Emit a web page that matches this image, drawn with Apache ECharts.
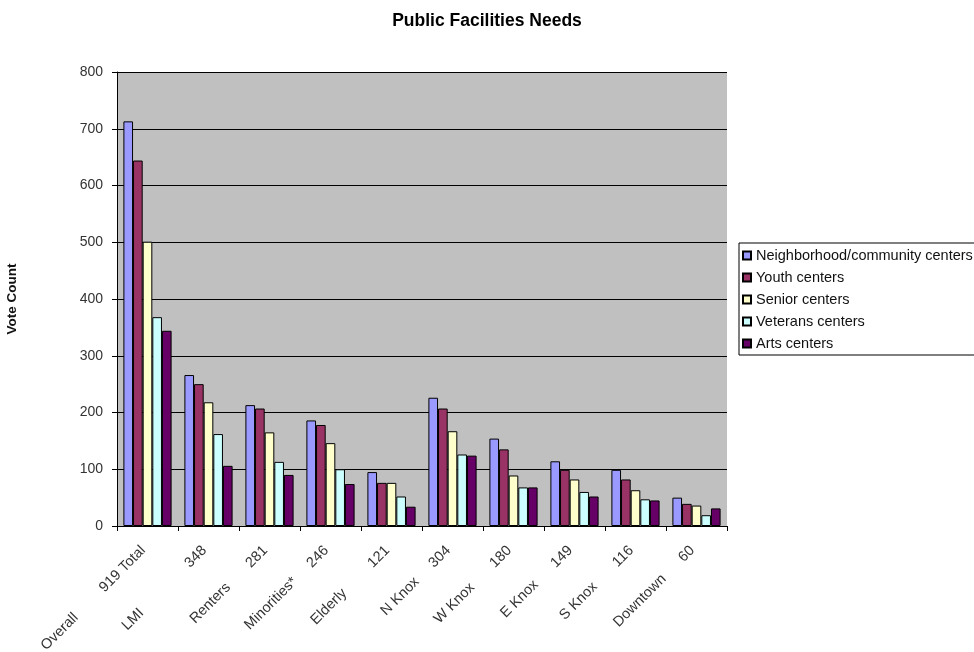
<!DOCTYPE html>
<html>
<head>
<meta charset="utf-8">
<script src="https://cdn.jsdelivr.net/npm/echarts@6/dist/echarts.min.js"></script>
<style>
html,body{margin:0;padding:0;background:#fff;}
#chart{width:974px;height:652px;}
</style>
</head>
<body>
<div id="chart"></div>
<script>
// Category labels (name + respondents count, as in the source)
var categories = [
  "Overall         919 Total",
  "LMI                348",
  "Renters       281",
  "Minorities*     246",
  "Elderly         121",
  "N Knox     304",
  "W Knox       180",
  "E Knox      149",
  "S Knox       116",
  "Downtown      60"
];
var seriesNames = [
  "Neighborhood/community centers",
  "Youth centers",
  "Senior centers",
  "Veterans centers",
  "Arts centers"
];
var neighborhood = [713, 266, 213, 186, 95, 226, 154, 114, 99, 50];
var youth        = [644, 250, 207, 178, 76, 207, 135, 99, 82, 39];
var senior       = [501, 218, 165, 146, 76, 167, 89, 82, 63, 36];
var veterans     = [368, 162, 113, 100, 52, 126, 68, 60, 47, 19];
var arts         = [344, 106, 90, 74, 34, 124, 68, 52, 45, 31];
var colors = ["#9999FF", "#993366", "#FFFFCC", "#CCFFFF", "#660066"];
var yTicks = [0, 100, 200, 300, 400, 500, 600, 700, 800];

var FONT = "'Liberation Sans', Arial, sans-serif";
var allData = [neighborhood, youth, senior, veterans, arts];

var series = allData.map(function (d, i) {
  return {
    name: seriesNames[i],
    type: 'bar',
    data: d,
    barGap: '0%',
    barCategoryGap: '21%',
    itemStyle: { color: colors[i], borderColor: '#000', borderWidth: 1 },
    emphasis: { disabled: true }
  };
});

var chart = echarts.init(document.getElementById('chart'), null, { renderer: 'canvas' });
chart.setOption({
  animation: false,
  backgroundColor: '#fff',
  title: {
    text: 'Public Facilities Needs',
    left: 'center',
    top: 7,
    textStyle: { fontFamily: FONT, fontSize: 17.5, fontWeight: 'bold', color: '#000' }
  },
  legend: {
    orient: 'vertical',
    left: 739,
    top: 243,
    icon: 'rect',
    itemWidth: 8,
    itemHeight: 8,
    itemGap: 7,
    padding: [5, 3, 4, 3],
    borderColor: '#000',
    borderWidth: 1,
    backgroundColor: '#fff',
    selectedMode: false,
    textStyle: { fontFamily: FONT, fontSize: 14.5, lineHeight: 14, color: '#111' },
    data: seriesNames
  },
  grid: {
    left: 117,
    right: 247,
    top: 72,
    bottom: 126,
    show: true,
    backgroundColor: '#C0C0C0',
    borderWidth: 0,
    containLabel: false,
    outerBoundsMode: 'none'
  },
  xAxis: {
    type: 'category',
    data: categories,
    boundaryGap: true,
    axisLine: { show: true, lineStyle: { color: '#000', width: 1 } },
    axisTick: { show: true, inside: false, length: 5, lineStyle: { color: '#000' } },
    axisLabel: {
      interval: 0,
      rotate: 45,
      margin: 18,
      padding: [0, 6, 0, 0],
      fontFamily: FONT,
      fontSize: 14.5,
      color: '#333'
    },
    splitLine: { show: false }
  },
  yAxis: {
    type: 'value',
    min: 0,
    max: 800,
    interval: 100,
    name: 'Vote Count',
    nameLocation: 'middle',
    nameRotate: 90,
    nameGap: 98,
    nameTextStyle: { fontFamily: FONT, fontSize: 13.5, fontWeight: 'bold', color: '#111' },
    axisLine: { show: true, lineStyle: { color: '#000', width: 1 } },
    axisTick: { show: true, inside: false, length: 5, lineStyle: { color: '#000' } },
    axisLabel: {
      margin: 14,
      fontFamily: FONT,
      fontSize: 14,
      color: '#333',
      formatter: function (v) { return yTicks.indexOf(v) >= 0 ? String(v) : ''; }
    },
    splitLine: { show: true, lineStyle: { color: '#000', width: 1 } }
  },
  series: series
});
</script>
</body>
</html>
